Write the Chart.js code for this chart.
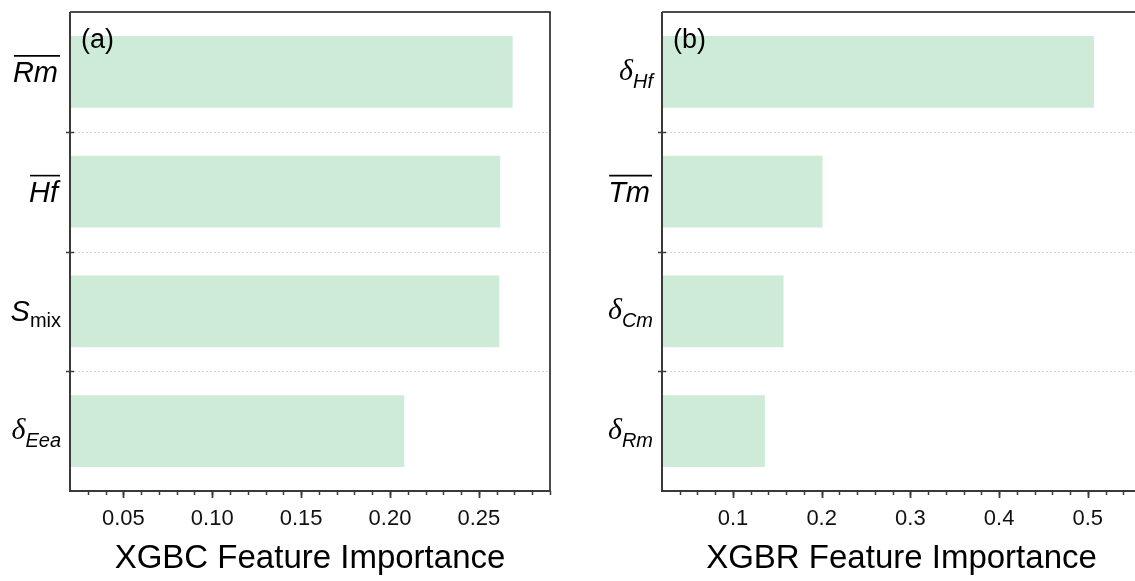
<!DOCTYPE html>
<html><head><meta charset="utf-8">
<script src="https://cdn.jsdelivr.net/npm/chart.js@4"></script>
<style>
html,body{margin:0;padding:0;background:#fff;width:1135px;height:581px;overflow:hidden;}
#wrap{position:relative;width:1135px;height:581px;overflow:hidden;}
#cA{position:absolute;left:0;top:0;}
#cB{position:absolute;left:570px;top:0;}
</style></head><body>
<div id="wrap"><canvas id="cA" width="570" height="581"></canvas><canvas id="cB" width="590" height="581"></canvas></div>
<script>
// ---- data ----
const categoriesA = ['Rm', 'Hf', 'Smix', 'δEea'];
const importanceA = [0.269, 0.262, 0.2615, 0.208];
const tickValuesA = [0.05, 0.10, 0.15, 0.20, 0.25];
const tickLabelsA = ['0.05', '0.10', '0.15', '0.20', '0.25'];
const rangeA = [0.02, 0.29];
const minorStepA = 0.01;
const titleA = 'XGBC Feature Importance';
const panelA = '(a)';

const categoriesB = ['δHf', 'Tm', 'δCm', 'δRm'];
const importanceB = [0.507, 0.201, 0.157, 0.136];
const tickValuesB = [0.1, 0.2, 0.3, 0.4, 0.5];
const tickLabelsB = ['0.1', '0.2', '0.3', '0.4', '0.5'];
const rangeB = [0.02, 0.56];
const minorStepB = 0.02;
const titleB = 'XGBR Feature Importance';
const panelB = '(b)';

// typographic markup of category labels (italic, subscript, overline)
const labelMarkup = {
  'Rm':   [{t:'Rm', it:1, ov:1}],
  'Hf':   [{t:'Hf', it:1, ov:1}],
  'Smix': [{t:'S', it:1}, {t:'mix', sub:1}],
  'δEea': [{t:'δ', it:1, serif:1}, {t:'Eea', sub:1, it:1}],
  'δHf':  [{t:'δ', it:1, serif:1}, {t:'Hf', sub:1, it:1}],
  'Tm':   [{t:'Tm', it:1, ov:1}],
  'δCm':  [{t:'δ', it:1, serif:1}, {t:'Cm', sub:1, it:1}],
  'δRm':  [{t:'δ', it:1, serif:1}, {t:'Rm', sub:1, it:1}]
};

const SANS = '"Liberation Sans", Arial, sans-serif';
const SERIF = '"Liberation Serif", "Times New Roman", serif';
const BAR = '#cdebd6';

function partFont(p){
  return (p.it ? 'italic ' : '') + (p.sub ? 20 : (p.serif ? 30 : 29)) + 'px ' + (p.serif ? SERIF : SANS);
}

function makeDeco(id, cats, tickValues, range, minorStep, panel){
  return {
    id: id,
    beforeDatasetsDraw(chart){
      const {ctx, chartArea:a, scales:{y}} = chart;
      ctx.save();
      ctx.strokeStyle = '#d6d6d6';
      ctx.lineWidth = 1;
      ctx.setLineDash([2, 2]);
      for (let i = 0; i < cats.length - 1; i++){
        const yb = Math.round((y.getPixelForValue(i) + y.getPixelForValue(i+1)) / 2) + 0.5;
        ctx.beginPath(); ctx.moveTo(a.left, yb); ctx.lineTo(a.right, yb); ctx.stroke();
      }
      ctx.restore();
    },
    afterDraw(chart){
      const {ctx, chartArea:a, scales:{x, y}} = chart;
      ctx.save();
      // frame
      ctx.strokeStyle = '#111'; ctx.lineWidth = 1.5;
      ctx.beginPath(); ctx.moveTo(a.left, a.top); ctx.lineTo(a.right, a.top); ctx.lineTo(a.right, a.bottom); ctx.stroke();
      ctx.strokeStyle = '#3a3a3a'; ctx.lineWidth = 2;
      ctx.beginPath(); ctx.moveTo(a.left, a.top); ctx.lineTo(a.left, a.bottom); ctx.lineTo(a.right, a.bottom); ctx.stroke();
      // y ticks (crossing) at category boundaries
      ctx.lineWidth = 1.5;
      for (let i = 0; i < cats.length - 1; i++){
        const yb = Math.round((y.getPixelForValue(i) + y.getPixelForValue(i+1)) / 2) + 0.5;
        ctx.beginPath(); ctx.moveTo(a.left - 4, yb); ctx.lineTo(a.left + 4, yb); ctx.stroke();
      }
      // x ticks: minor + major, outward
      const n = Math.round((range[1] - range[0]) / minorStep);
      for (let k = 1; k <= n; k++){
        const v = range[0] + k * minorStep;
        const xp = Math.round(x.getPixelForValue(v)) + 0.5;
        ctx.beginPath(); ctx.moveTo(xp, a.bottom); ctx.lineTo(xp, a.bottom + 4); ctx.stroke();
      }
      ctx.lineWidth = 1.8;
      tickValues.forEach(v => {
        const xp = Math.round(x.getPixelForValue(v)) + 0.5;
        ctx.beginPath(); ctx.moveTo(xp, a.bottom); ctx.lineTo(xp, a.bottom + 7); ctx.stroke();
      });
      // category labels
      ctx.fillStyle = '#000'; ctx.strokeStyle = '#000';
      ctx.textBaseline = 'alphabetic'; ctx.textAlign = 'left';
      cats.forEach((c, i) => {
        const parts = labelMarkup[c];
        const cy = y.getPixelForValue(i);
        let w = 0;
        parts.forEach(p => { ctx.font = partFont(p); p.w = ctx.measureText(p.t).width; w += p.w; });
        let xx = a.left - (parts[0].ov ? 12 : 9) - w;
        const base = cy + 10;
        parts.forEach(p => {
          ctx.font = partFont(p);
          const by = p.sub ? base + 6 : (p.serif ? base - 2 : base);
          ctx.fillText(p.t, xx, by);
          if (p.ov){
            ctx.lineWidth = 1.6;
            ctx.beginPath(); ctx.moveTo(xx + 1, base - 26); ctx.lineTo(xx + p.w + 2, base - 26); ctx.stroke();
          }
          xx += p.w;
        });
      });
      // panel tag
      ctx.font = '27px ' + SANS;
      ctx.fillText(panel, a.left + 11, a.top + 36);
      ctx.restore();
    }
  };
}

function makeChart(el, cats, vals, tickValues, tickLabels, range, minorStep, title, panel, yWidth, padRight, id){
  return new Chart(document.getElementById(el), {
    type: 'bar',
    data: { labels: cats, datasets: [{ data: vals, backgroundColor: BAR, borderWidth: 0, barPercentage: 0.6, categoryPercentage: 1.0 }] },
    options: {
      indexAxis: 'y', responsive: false, animation: false, devicePixelRatio: 1,
      layout: { padding: { top: 12, right: padRight, left: 0, bottom: 0 } },
      plugins: { legend: { display: false }, tooltip: { enabled: false } },
      scales: {
        x: {
          type: 'linear', min: range[0], max: range[1],
          afterBuildTicks: s => { s.ticks = tickValues.map(v => ({ value: v })); },
          ticks: { callback: (v, i) => tickLabels[i], font: { size: 22, family: SANS }, color: '#111', padding: 15, maxRotation: 0, autoSkip: false },
          grid: { display: false, drawTicks: false },
          border: { display: false },
          title: { display: true, text: title, font: { size: 33, family: SANS }, color: '#000', padding: { top: 0, bottom: 2 } },
          afterFit: s => { s.height = 90; }
        },
        y: {
          type: 'category', offset: true,
          grid: { display: false, drawTicks: false },
          border: { display: false },
          ticks: { display: false },
          afterFit: s => { s.width = yWidth; }
        }
      }
    },
    plugins: [makeDeco(id, cats, tickValues, range, minorStep, panel)]
  });
}

makeChart('cA', categoriesA, importanceA, tickValuesA, tickLabelsA, rangeA, minorStepA, titleA, panelA, 70, 20, 'decoA');
makeChart('cB', categoriesB, importanceB, tickValuesB, tickLabelsB, rangeB, minorStepB, titleB, panelB, 92, 19, 'decoB');
</script>
</body></html>
